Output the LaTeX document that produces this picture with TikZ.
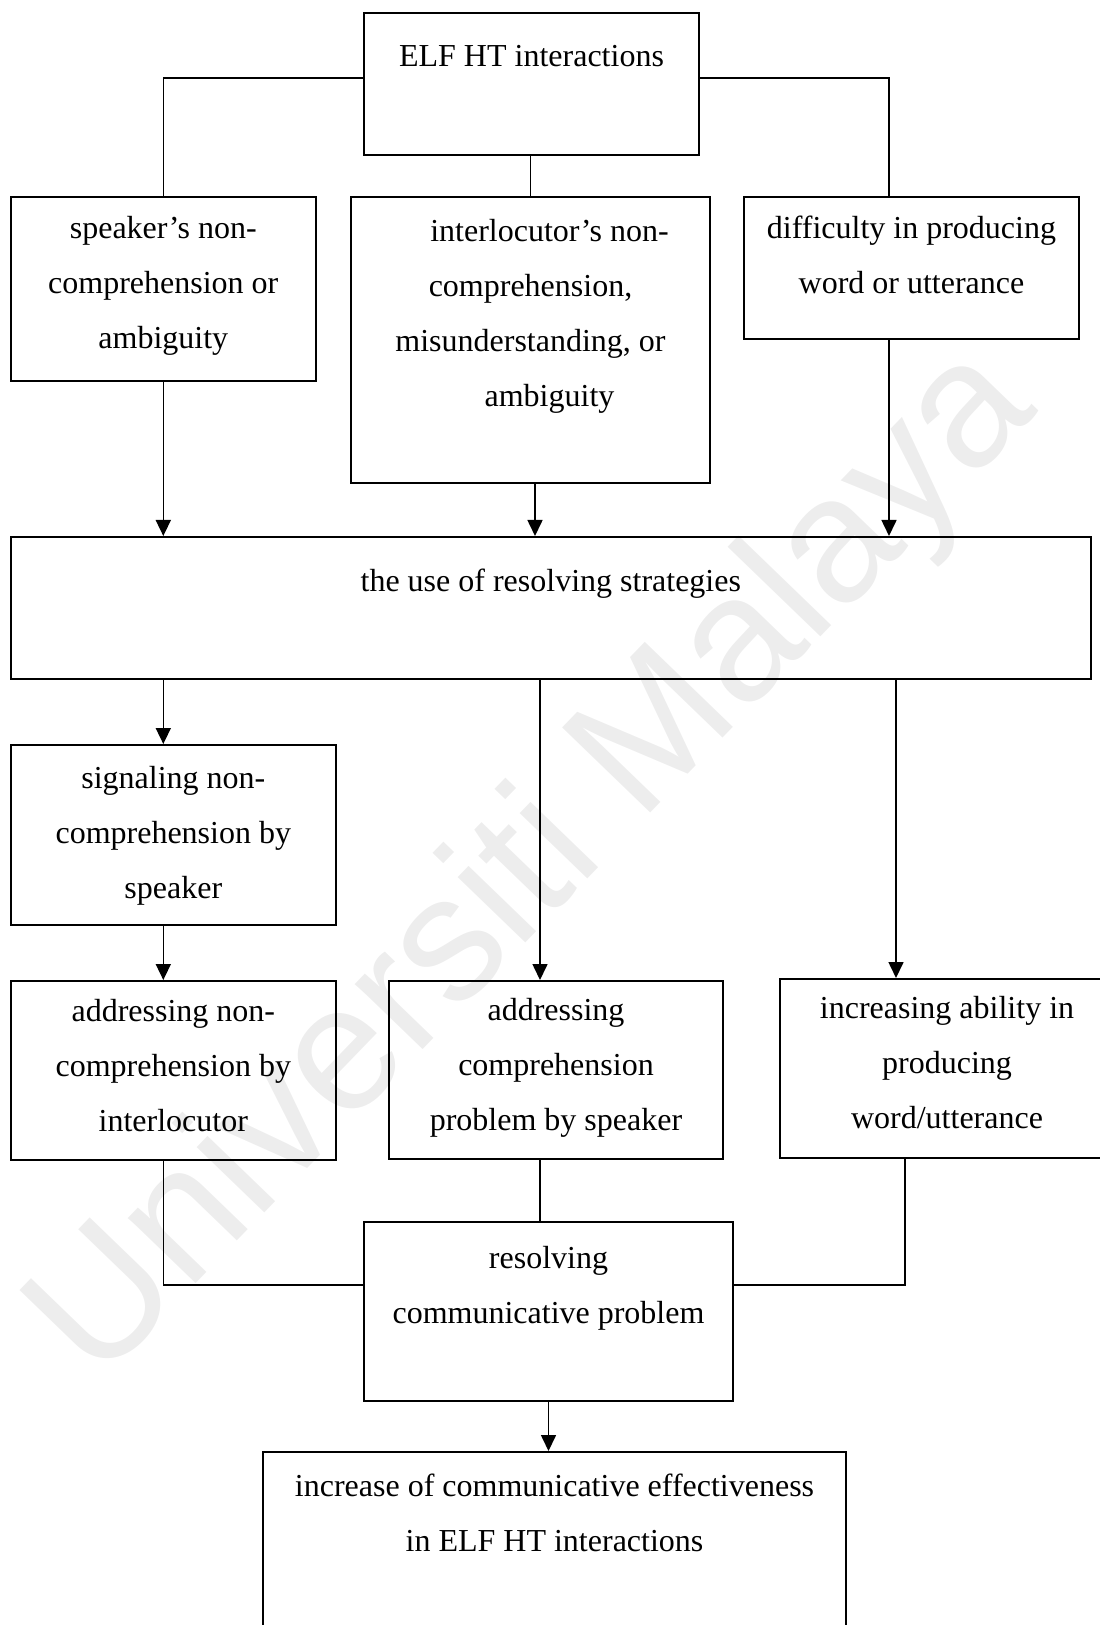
\documentclass[tikz,border=0pt]{standalone}
\usepackage{fontspec}
\setmainfont{Liberation Serif}
\newfontfamily\wmfamily{Liberation Sans}
\usetikzlibrary{arrows.meta,calc}

\tikzset{
  box/.style={draw, line width=1pt, rectangle, inner sep=0pt},
  txt/.style={anchor=north, inner sep=0pt, align=center,
    font=\fontsize{16}{27.5}\selectfont},
  link/.style={line width=0.8pt},
  arr/.style={link, -{Triangle[length=8pt,width=7.5pt]}},
}
% invisible strut fixing the height of the first text line
\newcommand{\firstline}{\rule{0pt}{12pt}}

\begin{document}
\begin{tikzpicture}[x=0.5pt, y=-0.5pt]
\useasboundingbox (0,0) rectangle (1099,1625);

% background watermark
\node[rotate=46, text=black!7, inner sep=0pt,
      font=\wmfamily\fontsize{89}{89}\selectfont] (wm) at (536,866) {Universiti Malaya};

% boxes
\node[box, minimum width=167.5pt, minimum height=71pt]  (b1)  at (531.5,84)   {};
\node[box, minimum width=152.7pt, minimum height=92pt]  (b2)  at (163.3,289)  {};
\node[box, minimum width=179.5pt, minimum height=143pt] (b3)  at (530.5,340)  {};
\node[box, minimum width=167.5pt, minimum height=71pt]  (b4)  at (911.5,268)  {};
\node[box, minimum width=540.2pt, minimum height=71pt]  (b5)  at (550.8,608)  {};
\node[box, minimum width=162.7pt, minimum height=90pt]  (b6)  at (173.3,835)  {};
\node[box, minimum width=162.7pt, minimum height=89.5pt] (b7) at (173.3,1070.5) {};
\node[box, minimum width=167pt,   minimum height=89pt]  (b8)  at (556,1070)   {};
\node[box, minimum width=167pt,   minimum height=89.5pt] (b9) at (947,1068.5) {};
\node[box, minimum width=184.5pt, minimum height=89.5pt] (b10) at (548.5,1311.5) {};
\node[box, minimum width=291.5pt, minimum height=96.5pt] (b11) at (554.5,1548.5) {};

% box texts
\node[txt] (t1)  at (531.5,42)  {\firstline ELF HT interactions};
\node[txt] (t2)  at (163.3,214) {\firstline speaker’s non-\\comprehension or\\ambiguity};
\node[txt] (t3)  at (530.5,217) {\firstline\hspace*{19pt}interlocutor’s non-\\comprehension,\\misunderstanding, or\\\hspace*{19pt}ambiguity};
\node[txt] (t4)  at (911.5,214) {\firstline difficulty in producing\\word or utterance};
\node[txt] (t5)  at (550.8,567) {\firstline the use of resolving strategies};
\node[txt] (t6)  at (173.3,764) {\firstline signaling non-\\comprehension by\\speaker};
\node[txt] (t7)  at (173.3,997) {\firstline addressing non-\\comprehension by\\interlocutor};
\node[txt] (t8)  at (556,996)   {\firstline addressing\\comprehension\\problem by speaker};
\node[txt] (t9)  at (947,994)   {\firstline increasing ability in\\producing\\word/utterance};
\node[txt] (t10) at (548.5,1244) {\firstline resolving\\communicative problem};
\node[txt] (t11) at (554.5,1472) {\firstline increase of communicative effectiveness\\in ELF HT interactions};

% branches from the top box
\draw[link] ([yshift=3pt]b1.west) -| (b2.north);
\draw[link] ([yshift=3pt]b1.east) -| ([xshift=-11.25pt]b4.north);
\draw[link] (b1.south -| b3.north) -- (b3.north);

% into the strategies box
\draw[arr] (b2.south) -- (b2.south |- b5.north);
\draw[arr] ([xshift=2.25pt]b3.south) -- ([xshift=2.25pt]b3.south |- b5.north);
\draw[arr] ([xshift=-11.25pt]b4.south) -- ([xshift=-11.25pt]b4.south |- b5.north);

% out of the strategies box
\draw[arr] ([xshift=-5pt]b6.north |- b5.south) -- ([xshift=-5pt]b6.north);
\draw[arr] ([xshift=-8pt]b8.north |- b5.south) -- ([xshift=-8pt]b8.north);
\draw[arr] ([xshift=-25.5pt]b9.north |- b5.south) -- ([xshift=-25.5pt]b9.north);
\draw[arr] ([xshift=-5pt]b6.south) -- ([xshift=-5pt]b7.north);

% joining into the resolving box
\draw[link] ([xshift=-5pt]b7.south) |- ([yshift=13.25pt]b10.west);
\draw[link] ([xshift=-8pt]b8.south) -- ([xshift=-8pt]b8.south |- b10.north);
\draw[link] ([xshift=-21pt]b9.south) |- ([yshift=13.25pt]b10.east);

% final outcome
\draw[arr] (b10.south) -- (b10.south |- b11.north);
\end{tikzpicture}
\end{document}
